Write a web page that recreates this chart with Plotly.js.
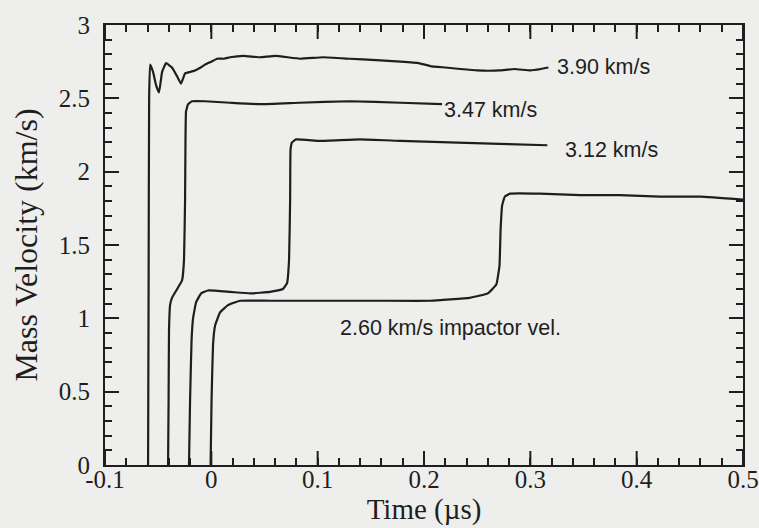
<!DOCTYPE html>
<html>
<head>
<meta charset="utf-8">
<script src="https://cdn.plot.ly/plotly-3.0.1.min.js"></script>
<style>html,body{margin:0;padding:0;background:#eeeeec;}#chart{width:759px;height:528px;}</style>
</head>
<body>
<div id="chart"></div>
<script>
// Time (µs) and mass velocity (km/s) for each impactor velocity
const t390 = [-0.0595, -0.0590, -0.0585, -0.0576, -0.0548, -0.0520, -0.0492, -0.0463, -0.0426, -0.0370, -0.0322, -0.0285, -0.0247, -0.0200, -0.0153, -0.0100, -0.0059, 0.0000, 0.0054, 0.0120, 0.0176, 0.0300, 0.0458, 0.0600, 0.0835, 0.1050, 0.1300, 0.1550, 0.1780, 0.1950, 0.2060, 0.2200, 0.2340, 0.2500, 0.2710, 0.2850, 0.3000, 0.3100, 0.3170];
const v390 = [0.00, 1.20, 2.50, 2.73, 2.68, 2.59, 2.54, 2.68, 2.74, 2.71, 2.65, 2.60, 2.67, 2.68, 2.69, 2.71, 2.73, 2.75, 2.77, 2.77, 2.78, 2.79, 2.78, 2.79, 2.77, 2.78, 2.77, 2.76, 2.75, 2.74, 2.72, 2.71, 2.70, 2.69, 2.69, 2.70, 2.69, 2.70, 2.71];

const t347 = [-0.0407, -0.0402, -0.0398, -0.0388, -0.0370, -0.0313, -0.0275, -0.0257, -0.0247, -0.0243, -0.0238, -0.0219, -0.0181, -0.0059, 0.0176, 0.0460, 0.0830, 0.1300, 0.1780, 0.2170];
const v347 = [0.00, 0.44, 0.92, 1.09, 1.14, 1.21, 1.26, 1.40, 1.81, 2.22, 2.41, 2.46, 2.48, 2.48, 2.47, 2.46, 2.47, 2.48, 2.47, 2.46];

const t312 = [-0.0210, -0.0200, -0.0186, -0.0172, -0.0143, -0.0096, -0.0031, 0.0176, 0.0364, 0.0552, 0.0674, 0.0712, 0.0731, 0.0741, 0.0745, 0.0759, 0.0797, 0.1020, 0.1400, 0.1780, 0.2240, 0.2710, 0.3160];
const v312 = [0.00, 0.44, 0.85, 1.00, 1.11, 1.17, 1.19, 1.18, 1.17, 1.18, 1.20, 1.24, 1.40, 1.81, 2.15, 2.20, 2.22, 2.21, 2.22, 2.21, 2.20, 2.19, 2.18];

const t260 = [-0.0007, 0.0002, 0.0016, 0.0035, 0.0082, 0.0157, 0.0270, 0.0552, 0.1020, 0.1590, 0.2060, 0.2430, 0.2600, 0.2680, 0.2710, 0.2720, 0.2735, 0.2760, 0.2810, 0.3090, 0.3470, 0.3840, 0.4220, 0.4600, 0.5000];
const v260 = [0.00, 0.44, 0.82, 0.95, 1.04, 1.09, 1.12, 1.12, 1.12, 1.12, 1.12, 1.14, 1.17, 1.23, 1.36, 1.60, 1.77, 1.83, 1.85, 1.85, 1.84, 1.84, 1.83, 1.83, 1.81];

const xTickVals = [-0.1, 0, 0.1, 0.2, 0.3, 0.4, 0.5];
const xTickText = ["-0.1", "0", "0.1", "0.2", "0.3", "0.4", "0.5"];
const yTickVals = [0, 0.5, 1, 1.5, 2, 2.5, 3];
const yTickText = ["0", "0.5", "1", "1.5", "2", "2.5", "3"];

const labels = ["3.90 km/s", "3.47 km/s", "3.12 km/s", "2.60 km/s impactor vel."];
const labelX = [0.3233, 0.217, 0.331, 0.119];
const labelY = [2.713, 2.42, 2.147, 0.934];

const ink = '#1e1e1e';
const lineStyle = {color: ink, width: 2.2, shape: 'spline', smoothing: 0.3};
const mk = (x, y) => ({x: x, y: y, type: 'scatter', mode: 'lines', line: lineStyle, hoverinfo: 'skip'});
// empty traces that only carry the tick/label overlay axes
const holder = (xa, ya) => ({x: [], y: [], type: 'scatter', mode: 'lines', xaxis: xa, yaxis: ya, hoverinfo: 'skip', showlegend: false});
const data = [mk(t390, v390), mk(t347, v347), mk(t312, v312), mk(t260, v260),
  holder('x2', 'y2'), holder('x2', 'y3'), holder('x4', 'y')];

const serif = 'Liberation Serif, Times New Roman, serif';
const xRange = [-0.1, 0.5];
const yRange = [0, 3];
const bare = {showgrid: false, zeroline: false, showline: false, showticklabels: false};
const plotH = 528 - 25 - 63;
const majorFrac = 14 / plotH; // major x tick length as a fraction of the plot height

// major x tick marks (bottom and top), placed at the x tick values
const tickShapes = [];
xTickVals.forEach(v => {
  tickShapes.push({type: 'line', xref: 'x', yref: 'y domain', x0: v, x1: v, y0: 0, y1: majorFrac, line: {color: ink, width: 2}, layer: 'above'});
  tickShapes.push({type: 'line', xref: 'x', yref: 'y domain', x0: v, x1: v, y0: 1, y1: 1 - majorFrac, line: {color: ink, width: 2}, layer: 'above'});
});

const layout = {
  width: 759, height: 528,
  paper_bgcolor: '#eeeeec', plot_bgcolor: '#eeeeec',
  margin: {l: 105, r: 16, t: 25, b: 63},
  showlegend: false,
  xaxis: {
    range: xRange, showgrid: false, zeroline: false, showline: true, linecolor: ink, linewidth: 2,
    mirror: true, ticks: '', showticklabels: false
  },
  yaxis: {
    range: yRange, tickmode: 'array', tickvals: yTickVals, ticktext: yTickText,
    showgrid: false, zeroline: false, showline: true, linecolor: ink, linewidth: 2,
    mirror: true, ticks: '',
    tickfont: {family: serif, size: 25, color: ink},
    ticklabelstandoff: 8,
    title: {text: 'Mass Velocity (km/s)', font: {family: serif, size: 32, color: ink}, standoff: 12}
  },
  // minor ticks (bottom/top and left/right)
  xaxis2: Object.assign({}, bare, {overlaying: 'x', anchor: 'y2', side: 'bottom', range: xRange, dtick: 0.02, tick0: 0,
    mirror: 'ticks', ticks: 'inside', ticklen: 7, tickwidth: 2, tickcolor: ink}),
  yaxis2: Object.assign({}, bare, {overlaying: 'y', anchor: 'x2', side: 'left', range: yRange, dtick: 0.1, tick0: 0,
    mirror: 'ticks', ticks: 'inside', ticklen: 7, tickwidth: 2, tickcolor: ink}),
  // major y ticks
  yaxis3: Object.assign({}, bare, {overlaying: 'y', anchor: 'x2', side: 'left', range: yRange, tickmode: 'array', tickvals: yTickVals,
    mirror: 'ticks', ticks: 'inside', ticklen: 14, tickwidth: 2, tickcolor: ink}),
  // x tick labels and title
  xaxis4: {
    overlaying: 'x', anchor: 'free', position: 0.0065, side: 'bottom', range: xRange,
    tickmode: 'array', tickvals: xTickVals, ticktext: xTickText,
    showgrid: false, zeroline: false, showline: false, ticks: '',
    tickfont: {family: serif, size: 25, color: ink},
    title: {text: 'Time (µs)', font: {family: serif, size: 29, color: ink}, standoff: 4}
  },
  shapes: tickShapes,
  annotations: labels.map((s, i) => ({
    x: labelX[i], y: labelY[i], xref: 'x', yref: 'y', text: s, showarrow: false,
    xanchor: 'left', yanchor: 'middle',
    font: {family: 'Liberation Sans, Arial, sans-serif', size: 21.5, color: ink}
  }))
};

Plotly.newPlot('chart', data, layout, {displayModeBar: false});
</script>
</body>
</html>
